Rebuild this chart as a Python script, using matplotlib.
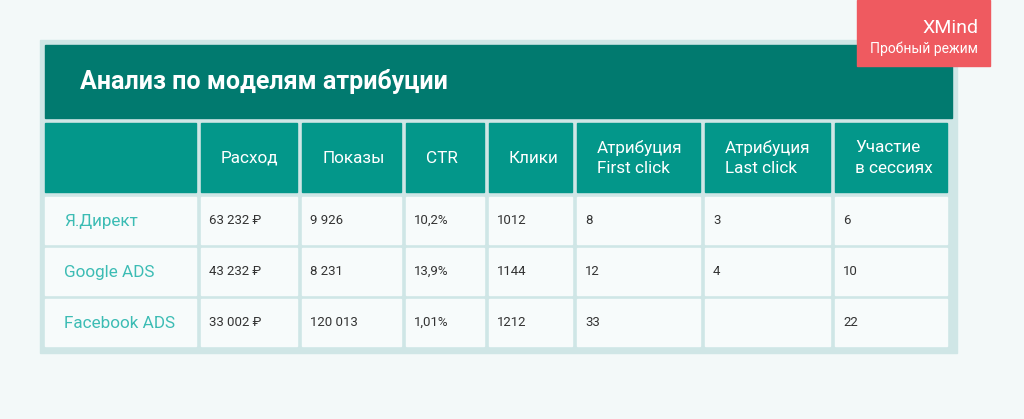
import matplotlib.pyplot as plt
from matplotlib.patches import Rectangle

plt.rcParams['font.family'] = ['Roboto', 'DejaVu Sans']

title = "Анализ по моделям атрибуции"
headers = ["", "Расход", "Показы", "CTR", "Клики",
           "Атрибуция\nFirst click", "Атрибуция\nLast click", "Участие\nв сессиях"]
channels = ["Я.Директ", "Google ADS", "Facebook ADS"]
spend = ["63 232 ₽", "43 232 ₽", "33 002 ₽"]
shows = ["9 926", "8 231", "120 013"]
ctr = ["10,2%", "13,9%", "1,01%"]
clicks = ["1012", "1144", "1212"]
first_click = ["8", "12", "33"]
last_click = ["3", "4", ""]
sessions = ["6", "10", "22"]

col_edges = [45, 201, 302, 406, 489, 577, 705, 835, 952]
gap = 5
row_tops = [197, 248, 299]
row_h = 47

fig = plt.figure(figsize=(10.24, 4.19), dpi=100)
fig.patch.set_facecolor("#f3f9f9")
ax = fig.add_axes([0, 0, 1, 1])
ax.set_xlim(0, 1024)
ax.set_ylim(419, 0)
ax.axis("off")

# frame
ax.add_patch(Rectangle((40, 40), 917, 313, color="#cfe6e6"))
# title bar
ax.add_patch(Rectangle((45, 45), 907, 73, color="#017a6f"))
ax.text(80, 82, title, color="white", fontsize=18, fontweight="bold", va="center")

# header
for i, h in enumerate(headers):
    x0 = col_edges[i]
    x1 = col_edges[i + 1] - gap
    ax.add_patch(Rectangle((x0, 123), x1 - x0, 69, color="#03978a"))
    if h:
        ax.text(x0 + 20, 158, h, color="white", fontsize=12.3, va="center",
                linespacing=1.45)

data = list(zip(channels, spend, shows, ctr, clicks, first_click, last_click, sessions))
for r, row in enumerate(data):
    y0 = row_tops[r]
    for i, v in enumerate(row):
        x0 = col_edges[i]
        x1 = col_edges[i + 1] - gap
        ax.add_patch(Rectangle((x0, y0), x1 - x0, row_h, color="#f7fbfb"))
        if i == 0:
            ax.text(x0 + 19, y0 + row_h / 2 + 1, v, color="#3cbcb4", fontsize=12.3, va="center")
        else:
            ax.text(x0 + 8, y0 + row_h / 2, v, color="#333333", fontsize=9.5, va="center")

# trial badge
ax.add_patch(Rectangle((857, 0), 133, 66, color="#ef5a60"))
ax.text(978, 28, "XMind", color="white", fontsize=14, ha="right", va="center")
ax.text(978, 49, "Пробный режим", color="white", fontsize=10, ha="right", va="center")

fig.savefig("out.png", dpi=100, facecolor=fig.get_facecolor())
